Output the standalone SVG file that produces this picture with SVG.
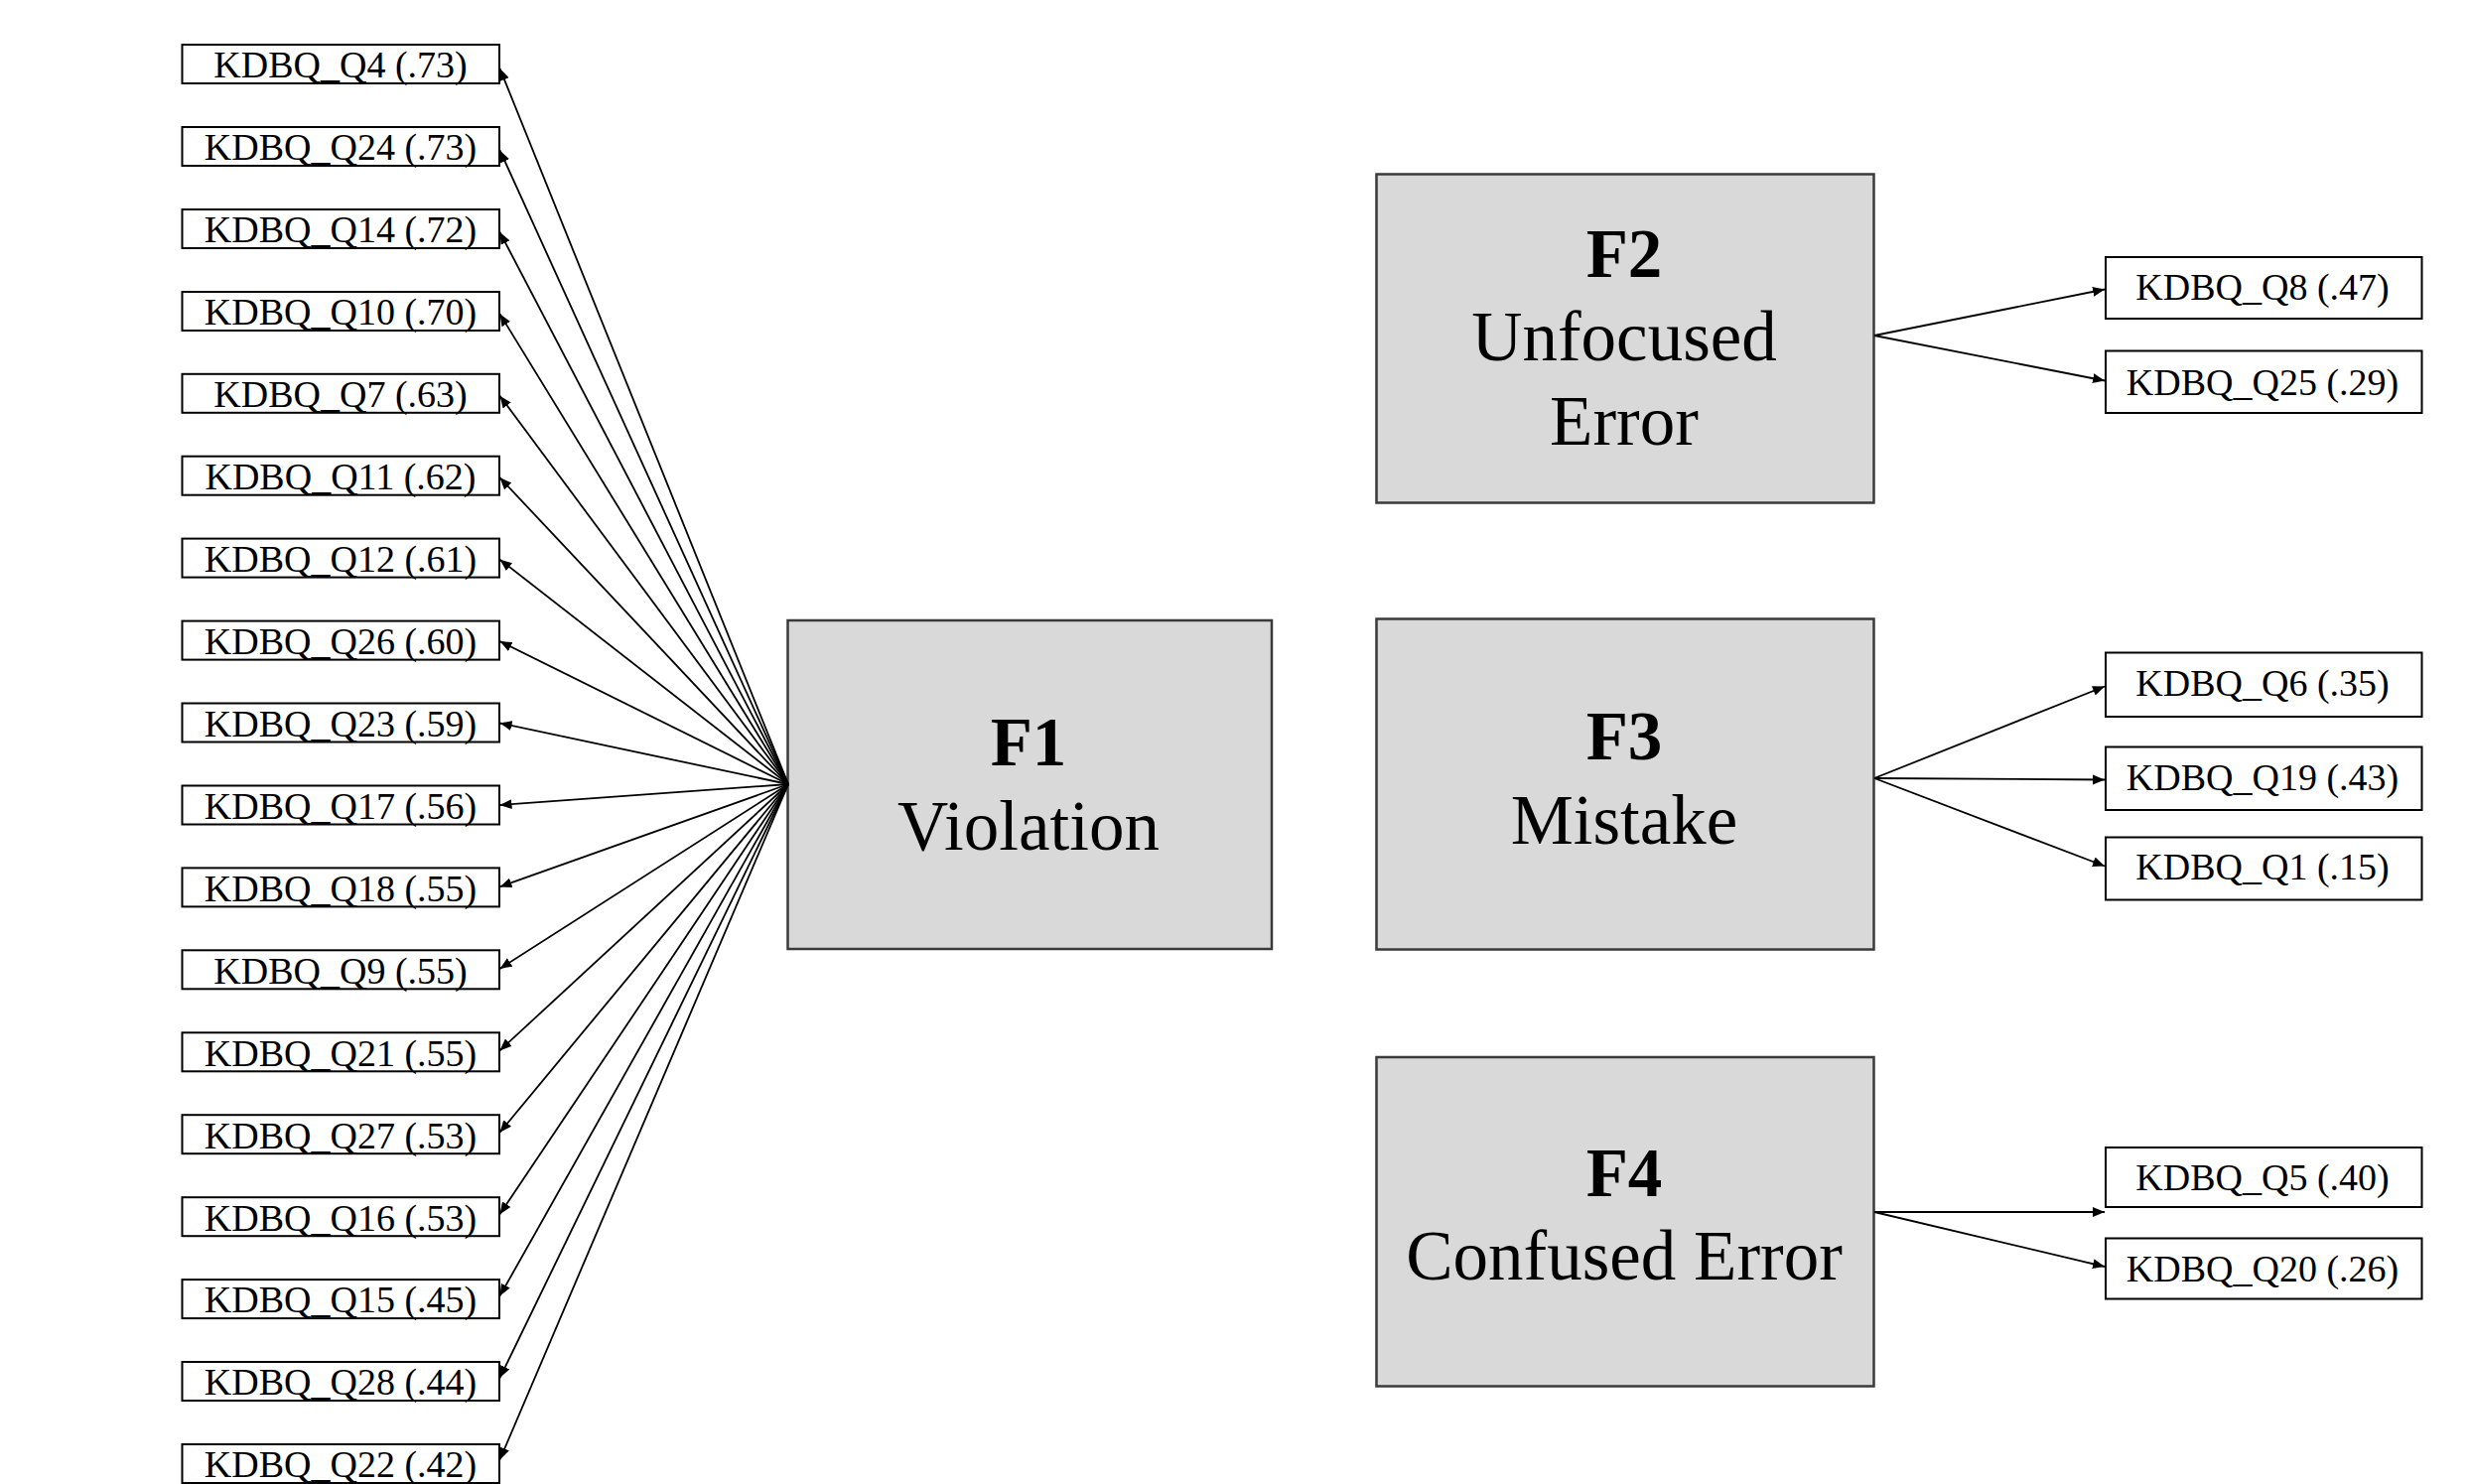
<svg xmlns="http://www.w3.org/2000/svg" width="2488" height="1495" viewBox="0 0 2488 1495">
<style>
  .item rect { fill: #ffffff; stroke: #000000; stroke-width: 2; }
  .item text { font-family: "Liberation Serif", "Times New Roman", serif; font-size: 38px; fill: #000; text-anchor: middle; }
  .factor rect { fill: #d9d9d9; stroke: #3a3a3a; stroke-width: 2.5; }
  .factor text { font-family: "Liberation Serif", "Times New Roman", serif; font-size: 71px; fill: #000; text-anchor: middle; }
  .factor text.id { font-weight: bold; font-size: 69px; }
  #connectors line { stroke: #000; stroke-width: 1.8; marker-end: url(#arrow); }
</style>
<defs>
  <marker id="arrow" markerUnits="userSpaceOnUse" markerWidth="13" markerHeight="11" refX="12" refY="5" orient="auto">
    <path d="M0,0 L12,5 L0,10 z" fill="#000"/>
  </marker>
</defs>
<rect x="0" y="0" width="2488" height="1495" fill="#ffffff"/>

<g id="F1" class="factor">
  <rect x="793.5" y="625" width="487.5" height="331"/>
  <text class="id" x="1036" y="771">F1</text>
  <text x="1036" y="856">Violation</text>
</g>
<g id="F2" class="factor">
  <rect x="1386.5" y="175.5" width="501" height="331"/>
  <text class="id" x="1636" y="279">F2</text>
  <text x="1636" y="363">Unfocused</text>
  <text x="1636" y="448">Error</text>
</g>
<g id="F3" class="factor">
  <rect x="1386.5" y="623.5" width="501" height="333"/>
  <text class="id" x="1636" y="765">F3</text>
  <text x="1636" y="850">Mistake</text>
</g>
<g id="F4" class="factor">
  <rect x="1386.5" y="1065" width="501" height="331.5"/>
  <text class="id" x="1636" y="1205">F4</text>
  <text x="1636" y="1289">Confused Error</text>
</g>

<g id="Q4" class="item"><rect x="183.5" y="45" width="319.5" height="39"/><text x="343" y="78.3">KDBQ_Q4 (.73)</text></g>
<g id="Q24" class="item"><rect x="183.5" y="128" width="319.5" height="39"/><text x="343" y="161.3">KDBQ_Q24 (.73)</text></g>
<g id="Q14" class="item"><rect x="183.5" y="211" width="319.5" height="39"/><text x="343" y="244.2">KDBQ_Q14 (.72)</text></g>
<g id="Q10" class="item"><rect x="183.5" y="294" width="319.5" height="39"/><text x="343" y="327.1">KDBQ_Q10 (.70)</text></g>
<g id="Q7" class="item"><rect x="183.5" y="376.8" width="319.5" height="39"/><text x="343" y="410.1">KDBQ_Q7 (.63)</text></g>
<g id="Q11" class="item"><rect x="183.5" y="459.7" width="319.5" height="39"/><text x="343" y="493">KDBQ_Q11 (.62)</text></g>
<g id="Q12" class="item"><rect x="183.5" y="542.6" width="319.5" height="39"/><text x="343" y="575.9">KDBQ_Q12 (.61)</text></g>
<g id="Q26" class="item"><rect x="183.5" y="625.6" width="319.5" height="39"/><text x="343" y="658.9">KDBQ_Q26 (.60)</text></g>
<g id="Q23" class="item"><rect x="183.5" y="708.5" width="319.5" height="39"/><text x="343" y="741.8">KDBQ_Q23 (.59)</text></g>
<g id="Q17" class="item"><rect x="183.5" y="791.5" width="319.5" height="39"/><text x="343" y="824.8">KDBQ_Q17 (.56)</text></g>
<g id="Q18" class="item"><rect x="183.5" y="874.4" width="319.5" height="39"/><text x="343" y="907.7">KDBQ_Q18 (.55)</text></g>
<g id="Q9" class="item"><rect x="183.5" y="957.3" width="319.5" height="39"/><text x="343" y="990.6">KDBQ_Q9 (.55)</text></g>
<g id="Q21" class="item"><rect x="183.5" y="1040.3" width="319.5" height="39"/><text x="343" y="1073.6">KDBQ_Q21 (.55)</text></g>
<g id="Q27" class="item"><rect x="183.5" y="1123.2" width="319.5" height="39"/><text x="343" y="1156.5">KDBQ_Q27 (.53)</text></g>
<g id="Q16" class="item"><rect x="183.5" y="1206.2" width="319.5" height="39"/><text x="343" y="1239.5">KDBQ_Q16 (.53)</text></g>
<g id="Q15" class="item"><rect x="183.5" y="1289.1" width="319.5" height="39"/><text x="343" y="1322.4">KDBQ_Q15 (.45)</text></g>
<g id="Q28" class="item"><rect x="183.5" y="1372" width="319.5" height="39"/><text x="343" y="1405.3">KDBQ_Q28 (.44)</text></g>
<g id="Q22" class="item"><rect x="183.5" y="1455" width="319.5" height="39"/><text x="343" y="1488.3">KDBQ_Q22 (.42)</text></g>

<g id="Q8" class="item"><rect x="2121" y="259" width="318.5" height="62"/><text x="2279" y="302">KDBQ_Q8 (.47)</text></g>
<g id="Q25" class="item"><rect x="2121" y="353.5" width="318.5" height="62.5"/><text x="2279" y="397.5">KDBQ_Q25 (.29)</text></g>
<g id="Q6" class="item"><rect x="2121" y="657.5" width="318.5" height="64.5"/><text x="2279" y="701">KDBQ_Q6 (.35)</text></g>
<g id="Q19" class="item"><rect x="2121" y="752.5" width="318.5" height="63.5"/><text x="2279" y="796">KDBQ_Q19 (.43)</text></g>
<g id="Q1" class="item"><rect x="2121" y="843.5" width="318.5" height="63"/><text x="2279" y="886">KDBQ_Q1 (.15)</text></g>
<g id="Q5" class="item"><rect x="2121" y="1156" width="318.5" height="60"/><text x="2279" y="1198.5">KDBQ_Q5 (.40)</text></g>
<g id="Q20" class="item"><rect x="2121" y="1247.5" width="318.5" height="61"/><text x="2279" y="1290.5">KDBQ_Q20 (.26)</text></g>

<g id="connectors">
  <line x1="794" y1="790" x2="503.5" y2="69"/>
  <line x1="794" y1="790" x2="503.5" y2="151.4"/>
  <line x1="794" y1="790" x2="503.5" y2="233.9"/>
  <line x1="794" y1="790" x2="503.5" y2="316.3"/>
  <line x1="794" y1="790" x2="503.5" y2="398.8"/>
  <line x1="794" y1="790" x2="503.5" y2="481.2"/>
  <line x1="794" y1="790" x2="503.5" y2="563.7"/>
  <line x1="794" y1="790" x2="503.5" y2="646.1"/>
  <line x1="794" y1="790" x2="503.5" y2="728.5"/>
  <line x1="794" y1="790" x2="503.5" y2="811"/>
  <line x1="794" y1="790" x2="503.5" y2="893.4"/>
  <line x1="794" y1="790" x2="503.5" y2="975.9"/>
  <line x1="794" y1="790" x2="503.5" y2="1058.3"/>
  <line x1="794" y1="790" x2="503.5" y2="1140.8"/>
  <line x1="794" y1="790" x2="503.5" y2="1223.2"/>
  <line x1="794" y1="790" x2="503.5" y2="1305.6"/>
  <line x1="794" y1="790" x2="503.5" y2="1388.1"/>
  <line x1="794" y1="790" x2="503.5" y2="1470.5"/>

  <line x1="1888" y1="338" x2="2120" y2="291.5"/>
  <line x1="1888" y1="338" x2="2120" y2="383.5"/>

  <line x1="1888" y1="784" x2="2120" y2="691.5"/>
  <line x1="1888" y1="784" x2="2120" y2="785.5"/>
  <line x1="1888" y1="784" x2="2120" y2="872.5"/>

  <line x1="1888" y1="1221" x2="2120" y2="1221"/>
  <line x1="1888" y1="1221" x2="2120" y2="1276"/>
</g>
</svg>
